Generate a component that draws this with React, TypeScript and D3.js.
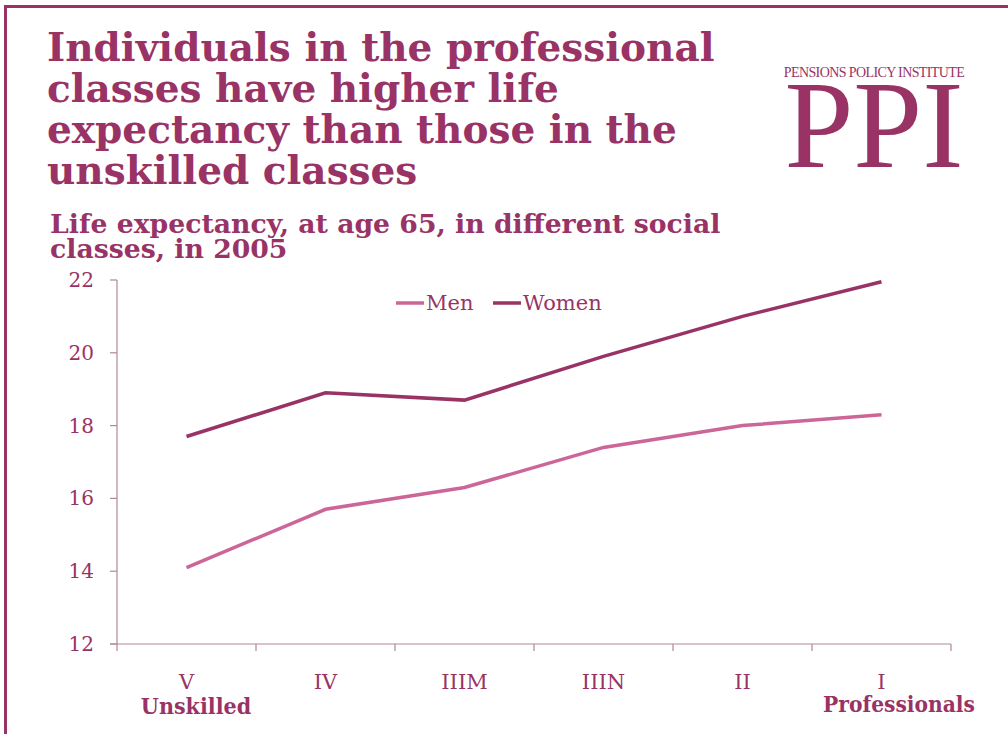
import React from "react";
import * as d3 from "d3";

const categories = ["V", "IV", "IIIM", "IIIN", "II", "I"];
const menValues = [14.1, 15.7, 16.3, 17.4, 18.0, 18.3];
const womenValues = [17.7, 18.9, 18.7, 19.9, 21.0, 21.95];
const yTicks = [12, 14, 16, 18, 20, 22];
const titleLines = [
  "Individuals in the professional",
  "classes have higher life",
  "expectancy than those in the",
  "unskilled classes",
];
const subtitleLines = ["Life expectancy, at age 65, in different social", "classes, in 2005"];
const seriesNames = ["Men", "Women"];

const DARK = "#993366";
const PINK = "#cc6699";
const AXIS = "#b08898";

export default function App() {
  const W = 1008, H = 734;
  const left = 117, right = 951, top = 280, bottom = 644;
  const x = d3.scaleBand<string>().domain(categories).range([left, right]);
  const y = d3.scaleLinear().domain([12, 22]).range([bottom, top]);
  const line = d3
    .line<number>()
    .x((_, i) => (x(categories[i]) as number) + x.bandwidth() / 2)
    .y((d) => y(d));
  const serif = "'Liberation Serif', 'DejaVu Serif', serif";
  const dserif = "'DejaVu Serif', serif";
  const cserif = "'DejaVu Serif Condensed', 'DejaVu Serif', serif";
  return (
    <svg width={W} height={H} style={{ position: "absolute", left: 0, top: 0, background: "#fff" }}>
      <rect x={0} y={0} width={W} height={H} fill="#fff" />
      <line x1={4} y1={6.5} x2={W} y2={6.5} stroke={DARK} strokeWidth={3} />
      <line x1={5.5} y1={5} x2={5.5} y2={H} stroke={DARK} strokeWidth={3} />
      {titleLines.map((t, i) => (
        <text key={t} x={47} y={61 + i * 41} fill={DARK} fontFamily={dserif} fontWeight="bold" fontSize={39}>
          {t}
        </text>
      ))}
      {subtitleLines.map((t, i) => (
        <text key={t} x={50} y={233 + i * 25} fill={DARK} fontFamily={dserif} fontWeight="bold" fontSize={26.7}>
          {t}
        </text>
      ))}
      {/* logo */}
      <text x={874} y={77} textAnchor="middle" fill={DARK} fontFamily={serif} fontSize={14} letterSpacing={-0.6}>
        PENSIONS POLICY INSTITUTE
      </text>
      <text x={874} y={167} textAnchor="middle" fill={DARK} fontFamily={serif} fontSize={124} letterSpacing={0}>
        PPI
      </text>
      {/* axes */}
      <line x1={left} y1={top} x2={left} y2={bottom} stroke={AXIS} strokeWidth={1.2} />
      <line x1={left - 7} y1={bottom} x2={right} y2={bottom} stroke={AXIS} strokeWidth={1.2} />
      {yTicks.map((t) => (
        <g key={t}>
          <line x1={left - 7} x2={left} y1={y(t)} y2={y(t)} stroke={AXIS} strokeWidth={1.2} />
          <text x={94} y={y(t) + 7} textAnchor="end" fill={DARK} fontFamily={dserif} fontSize={20}>
            {t}
          </text>
        </g>
      ))}
      {categories.map((c) => (
        <g key={c}>
          <line x1={x(c) as number} x2={x(c) as number} y1={bottom} y2={bottom + 7} stroke={AXIS} strokeWidth={1.2} />
          <text x={(x(c) as number) + x.bandwidth() / 2} y={689} textAnchor="middle" fill={DARK} fontFamily={dserif} fontSize={21}>
            {c}
          </text>
        </g>
      ))}
      <line x1={right} x2={right} y1={bottom} y2={bottom + 7} stroke={AXIS} strokeWidth={1.2} />
      <text x={196} y={714} textAnchor="middle" fill={DARK} fontFamily={cserif} fontWeight="bold" fontSize={23}>
        Unskilled
      </text>
      <text x={899} y={712} textAnchor="middle" fill={DARK} fontFamily={cserif} fontWeight="bold" fontSize={22.5}>
        Professionals
      </text>
      <path d={line(menValues) || ""} fill="none" stroke={PINK} strokeWidth={3.5} />
      <path d={line(womenValues) || ""} fill="none" stroke={DARK} strokeWidth={3.5} />
      {/* legend */}
      <line x1={396} x2={424} y1={303} y2={303} stroke={PINK} strokeWidth={3.5} />
      <text x={426} y={310} fill={DARK} fontFamily={dserif} fontSize={21}>
        {seriesNames[0]}
      </text>
      <line x1={493} x2={521} y1={303} y2={303} stroke={DARK} strokeWidth={3.5} />
      <text x={523} y={310} fill={DARK} fontFamily={dserif} fontSize={21}>
        {seriesNames[1]}
      </text>
    </svg>
  );
}
